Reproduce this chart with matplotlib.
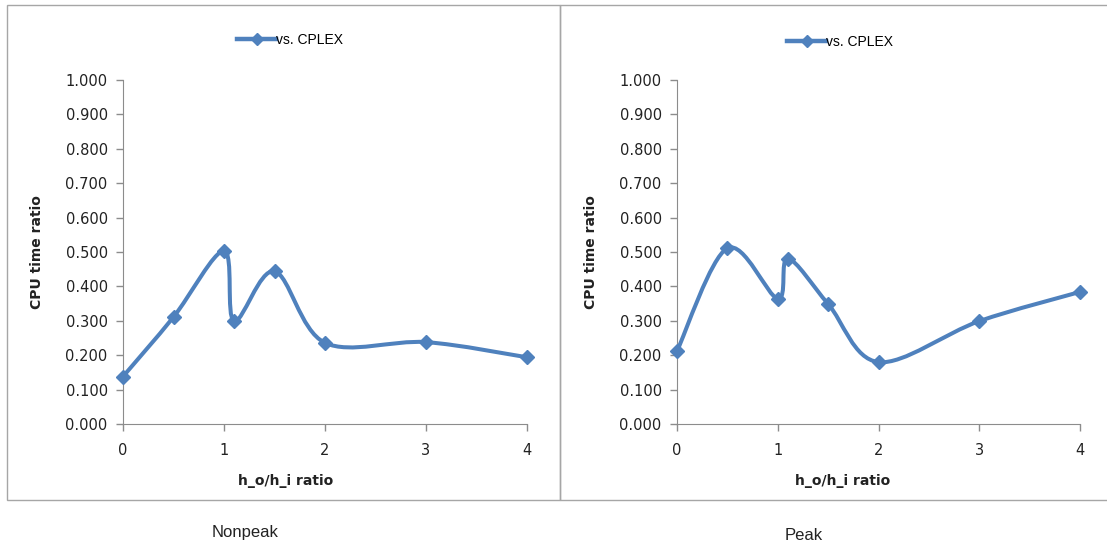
import numpy as np
import matplotlib
matplotlib.use('Agg')
import matplotlib.pyplot as plt
from matplotlib.path import Path
from matplotlib.patches import PathPatch, Rectangle
from matplotlib.lines import Line2D
from matplotlib.ticker import FormatStrFormatter

# data
ratio = [0, 0.5, 1, 1.1, 1.5, 2, 3, 4]
nonpeak = [0.138, 0.311, 0.503, 0.299, 0.444, 0.236, 0.238, 0.194]
peak = [0.212, 0.511, 0.364, 0.481, 0.349, 0.180, 0.299, 0.384]
y_ticks = [0.0, 0.1, 0.2, 0.3, 0.4, 0.5, 0.6, 0.7, 0.8, 0.9, 1.0]
x_ticks = [0, 1, 2, 3, 4]

BLUE = '#4F81BD'
GRAY = '#8C8C8C'
TXT = '#222222'
plt.rcParams['font.family'] = ['DejaVu Sans']
SANS = ['Liberation Sans', 'DejaVu Sans']

W, H = 1107, 548
fig = plt.figure(figsize=(W / 100, H / 100), dpi=100)


def px(x0, y0, w, h):
    # pixel box (top-left origin) -> figure fraction rect
    return [x0 / W, 1 - (y0 + h) / H, w / W, h / H]


def smooth_path(ax, xs, ys):
    """Excel-style smoothed line: bezier segments built in screen scale."""
    bb = ax.get_position()
    sx = bb.width * W / (ax.get_xlim()[1] - ax.get_xlim()[0])
    sy = bb.height * H / (ax.get_ylim()[1] - ax.get_ylim()[0])
    p = np.column_stack([np.asarray(xs) * sx, np.asarray(ys) * sy])
    n = len(p)
    verts = [p[0]]
    codes = [Path.MOVETO]
    for i in range(n - 1):
        p0 = p[max(i - 1, 0)]
        p1 = p[i]
        p2 = p[i + 1]
        p3 = p[min(i + 2, n - 1)]
        d12 = np.hypot(*(p2 - p1))
        d02 = np.hypot(*(p2 - p0))
        d13 = np.hypot(*(p3 - p1))
        f1 = 1 / 6 if d02 / 6 < d12 / 2 else d12 / (2 * d02 + 1e-9)
        f2 = 1 / 6 if d13 / 6 < d12 / 2 else d12 / (2 * d13 + 1e-9)
        verts += [p1 + (p2 - p0) * f1, p2 - (p3 - p1) * f2, p2]
        codes += [Path.CURVE4] * 3
    verts = np.array(verts) / [sx, sy]
    return Path(verts, codes)


def panel(rect, xs, ys, legend_xy, xlabel_x, caption, caption_xy):
    ax = fig.add_axes(rect)
    ax.set_xlim(0, 4)
    ax.set_ylim(0, 1)
    ax.add_patch(PathPatch(smooth_path(ax, xs, ys), facecolor='none',
                           edgecolor=BLUE, lw=2.9, capstyle='round',
                           joinstyle='round', clip_on=False))
    ax.plot(xs, ys, ls='none', marker='D', ms=7, color=BLUE, clip_on=False, zorder=3)
    ax.set_xticks(x_ticks)
    ax.set_yticks(y_ticks)
    ax.yaxis.set_major_formatter(FormatStrFormatter('%.3f'))
    for s in ['top', 'right']:
        ax.spines[s].set_visible(False)
    for s in ['left', 'bottom']:
        ax.spines[s].set_color(GRAY)
    ax.tick_params(colors=GRAY, labelcolor=TXT, labelsize=10.5, length=5, width=1)
    ax.tick_params(axis='y', pad=6)
    ax.tick_params(axis='x', pad=9)
    ax.set_ylabel('CPU time ratio', fontweight='bold', fontsize=10, color=TXT)
    ax.set_xlabel('h_o/h_i ratio', fontweight='bold', fontsize=10, color=TXT)
    ax.yaxis.set_label_coords(-0.196, 0.5)
    ax.xaxis.set_label_coords(xlabel_x, -0.145)
    h = Line2D([], [], color=BLUE, lw=3.2, marker='D', ms=6.5)
    fig.legend([h], ['vs. CPLEX'], loc='center', frameon=False,
               prop={'family': SANS, 'size': 10},
               handlelength=2.8, handletextpad=0.0,
               bbox_to_anchor=(legend_xy[0] / W, 1 - legend_xy[1] / H))
    fig.text(caption_xy[0] / W, 1 - caption_xy[1] / H, caption, fontsize=12,
             family=SANS, ha='center', va='center', color=TXT)
    return ax


# chart frames
fig.patches.append(Rectangle((7 / W, 1 - 500 / H), 553 / W, 495 / H,
                             transform=fig.transFigure, fill=False,
                             edgecolor='#A6A6A6', lw=1))
fig.patches.append(Rectangle((560 / W, 1 - 500 / H), 560 / W, 495 / H,
                             transform=fig.transFigure, fill=False,
                             edgecolor='#A6A6A6', lw=1, clip_on=False))

panel(px(123, 80, 404, 344), ratio, nonpeak, (290, 40), 0.402, 'Nonpeak', (245, 533))
panel(px(677, 80, 403, 344), ratio, peak, (840, 42), 0.412, 'Peak', (804, 535))

fig.savefig('out.png', dpi=100)
